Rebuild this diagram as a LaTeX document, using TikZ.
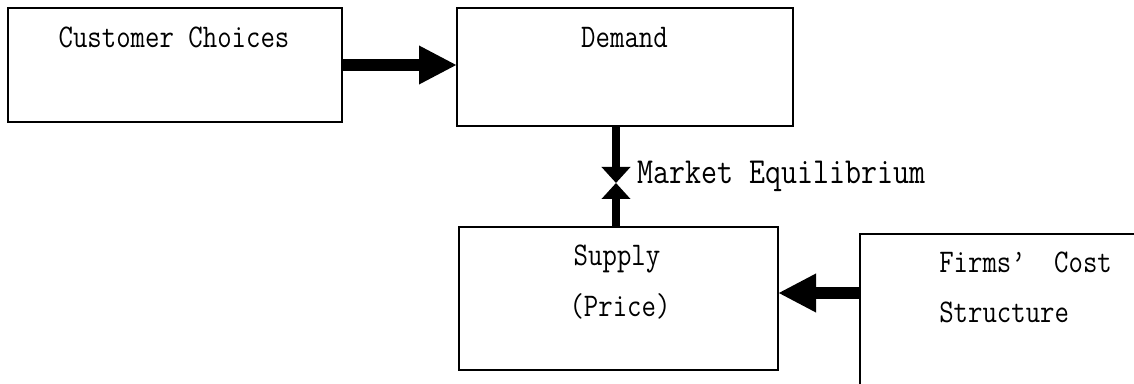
\documentclass[tikz,border=0pt]{standalone}
\usepackage{fontspec}
\usepackage{graphicx}
\usetikzlibrary{arrows.meta}
\newcommand{\tallt}[1]{\scalebox{1}[1.18]{#1}}
\begin{document}
\begin{tikzpicture}[x=0.75pt,y=-0.75pt,
  box/.style={draw=black,line width=1.1pt,inner sep=0pt,outer sep=0pt,fill=none},
  txt/.style={inner sep=0pt,font=\ttfamily\fontsize{21}{25}\selectfont},
  bigtxt/.style={inner sep=0pt,font=\ttfamily\fontsize{23.3}{28}\selectfont},
  fat/.style={line width=9pt,-{Triangle[length=28.5pt,width=27pt]}},
  thin/.style={line width=6pt,-{Triangle[length=12pt,width=21pt]}}]
\useasboundingbox (0,0) rectangle (1134,384);
\fill[white] (0,0) rectangle (1134,384);
% boxes
\node[box,minimum width=250.5pt,minimum height=85.5pt] (cust) at (175,65) {};
\node[box,minimum width=252pt,minimum height=88.5pt] (dem) at (625,67) {};
\node[box,minimum width=239.25pt,minimum height=107.25pt] (sup) at (618.5,298.5) {};
\node[box,minimum width=255pt,minimum height=139.5pt] (firms) at (1030,327) {};
% texts
\node[txt,anchor=base] (tcust) at (174,48) {\tallt{Customer Choices}};
\node[txt,anchor=base] (tdem) at (624.5,48) {\tallt{Demand}};
\node[txt,anchor=base] (tsup) at (617,266) {\tallt{Supply}};
\node[txt,anchor=base] (tprice) at (620,316) {\tallt{(Price)}};
\node[txt,anchor=base west] (tfirms) at (939,273) {\tallt{Firms’\hspace{0.5em} Cost}};
\node[txt,anchor=base west] (tstruct) at (939,323) {\tallt{Structure}};
% connectors
\draw[fat] (cust.east) -- (cust.east -| dem.west);
\coordinate (mid) at (616,183);
\draw[thin] (dem.south -| mid) -- (mid);
\draw[thin] (sup.north -| mid) -- (mid);
\node[bigtxt,anchor=base west] (teq) at (637,184) {\tallt{Market Equilibrium}};
\coordinate (f3) at (firms.west |- 0,293);
\draw[line width=9.5pt,-{Triangle[length=28.5pt,width=27pt]}] (f3) -- (f3 -| sup.east);
\end{tikzpicture}
\end{document}
